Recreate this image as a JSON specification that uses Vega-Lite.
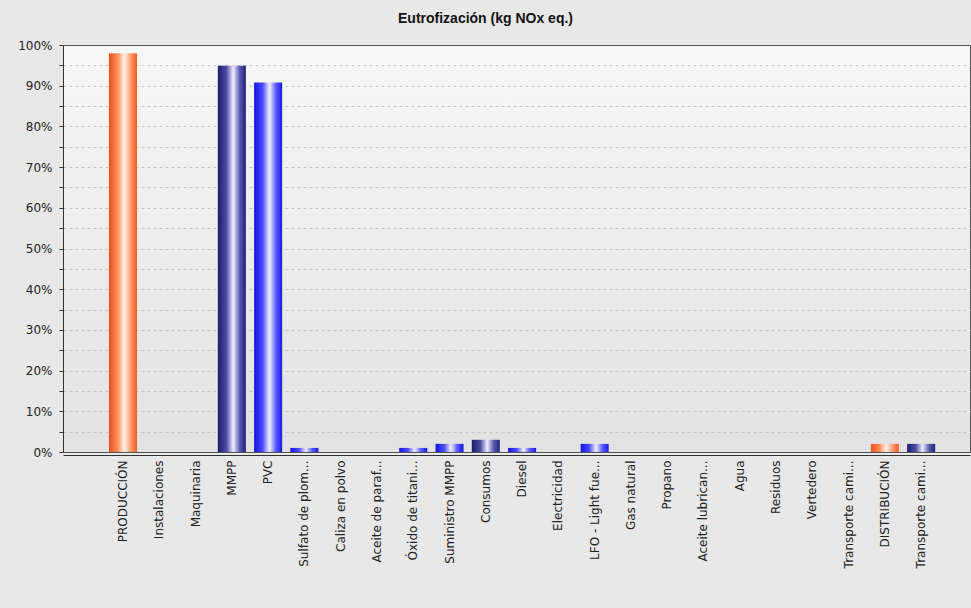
{
  "$schema": "https://vega.github.io/schema/vega-lite/v6.json",
  "width": 907,
  "height": 407,
  "autosize": {"type": "none"},
  "padding": {"left": 63, "top": 45, "right": 1, "bottom": 156},
  "background": "#e8e8e8",
  "title": {
    "text": "Eutrofización (kg NOx eq.)",
    "font": "Liberation Sans Narrow, Liberation Sans, sans-serif",
    "fontSize": 14,
    "fontWeight": "bold",
    "color": "#111111",
    "anchor": "middle",
    "baseline": "bottom",
    "offset": -1,
    "dx": -31
  },
  "config": {
    "view": {
      "stroke": "#555555",
      "strokeWidth": 1,
      "fill": {
        "gradient": "linear",
        "x1": 0, "y1": 0, "x2": 0, "y2": 1,
        "stops": [
          {"offset": 0, "color": "#f7f7f7"},
          {"offset": 1, "color": "#e2e2e2"}
        ]
      }
    },
    "axis": {"labelColor": "#222222", "labelFont": "DejaVu Sans", "labelFontSize": 12}
  },
  "data": {
    "values": [
      {"categoria": "PRODUCCIÓN", "valor": 0.980},
      {"categoria": "Instalaciones", "valor": 0},
      {"categoria": "Maquinaria", "valor": 0},
      {"categoria": "MMPP", "valor": 0.949},
      {"categoria": "PVC", "valor": 0.908},
      {"categoria": "Sulfato de plomo", "valor": 0.010},
      {"categoria": "Caliza en polvo", "valor": 0},
      {"categoria": "Aceite de parafina", "valor": 0},
      {"categoria": "Óxido de titanio", "valor": 0.010},
      {"categoria": "Suministro MMPP", "valor": 0.020},
      {"categoria": "Consumos", "valor": 0.030},
      {"categoria": "Diesel", "valor": 0.010},
      {"categoria": "Electricidad", "valor": 0},
      {"categoria": "LFO - Light fuel oil", "valor": 0.020},
      {"categoria": "Gas natural", "valor": 0},
      {"categoria": "Propano", "valor": 0},
      {"categoria": "Aceite lubricante", "valor": 0},
      {"categoria": "Agua", "valor": 0},
      {"categoria": "Residuos", "valor": 0},
      {"categoria": "Vertedero", "valor": 0},
      {"categoria": "Transporte camión (producción)", "valor": 0},
      {"categoria": "DISTRIBUCIÓN", "valor": 0.020},
      {"categoria": "Transporte camión (distribución)", "valor": 0.020}
    ]
  },
  "mark": {"type": "bar", "width": {"band": 0.773}},
  "encoding": {
    "x": {
      "field": "categoria",
      "type": "nominal",
      "sort": null,
      "scale": {"paddingInner": 0, "paddingOuter": 1, "align": 0.577},
      "axis": {
        "title": null,
        "labelAngle": -90,
        "labelPadding": 5,
        "ticks": false,
        "offset": 3,
        "domainColor": "#333333",
        "labelLimit": 300,
        "labelExpr": "length(datum.label) > 15 ? substring(datum.label, 0, 15) + '...' : datum.label"
      }
    },
    "y": {
      "field": "valor",
      "type": "quantitative",
      "scale": {"domain": [0, 1], "nice": false},
      "axis": {
        "title": null,
        "values": [0, 0.05, 0.1, 0.15, 0.2, 0.25, 0.3, 0.35, 0.4, 0.45, 0.5, 0.55, 0.6, 0.65, 0.7, 0.75, 0.8, 0.85, 0.9, 0.95, 1],
        "format": "%",
        "labelExpr": "round(datum.value * 100) % 10 == 0 ? datum.label : ''",
        "grid": true,
        "gridDash": [3, 3],
        "gridColor": {
          "condition": {"test": "datum.value <= 0 || datum.value >= 1", "value": null},
          "value": "#c6c6c6"
        },
        "tickSize": 4,
        "tickColor": "#333333",
        "domainColor": "#333333",
        "labelPadding": 7
      }
    },
    "fill": {
      "condition": [
        {
          "test": "indexof(['PRODUCCIÓN', 'DISTRIBUCIÓN'], datum.categoria) >= 0",
          "value": {
            "gradient": "linear",
            "x1": 0, "y1": 0, "x2": 1, "y2": 0,
            "stops": [
              {"offset": 0, "color": "#e8501c"},
              {"offset": 0.3, "color": "#ff8a55"},
              {"offset": 0.55, "color": "#fff3ea"},
              {"offset": 0.78, "color": "#ff9a6a"},
              {"offset": 1, "color": "#ee5a22"}
            ]
          }
        },
        {
          "test": "indexof(['MMPP', 'Consumos', 'Transporte camión (distribución)'], datum.categoria) >= 0",
          "value": {
            "gradient": "linear",
            "x1": 0, "y1": 0, "x2": 1, "y2": 0,
            "stops": [
              {"offset": 0, "color": "#1c1c6e"},
              {"offset": 0.3, "color": "#4a4aa0"},
              {"offset": 0.55, "color": "#eeeeff"},
              {"offset": 0.78, "color": "#5a5ab0"},
              {"offset": 1, "color": "#20207a"}
            ]
          }
        }
      ],
      "value": {
        "gradient": "linear",
        "x1": 0, "y1": 0, "x2": 1, "y2": 0,
        "stops": [
          {"offset": 0, "color": "#1414e0"},
          {"offset": 0.3, "color": "#4a4aff"},
          {"offset": 0.55, "color": "#f0f0ff"},
          {"offset": 0.78, "color": "#5a5aff"},
          {"offset": 1, "color": "#1818e8"}
        ]
      }
    }
  }
}
